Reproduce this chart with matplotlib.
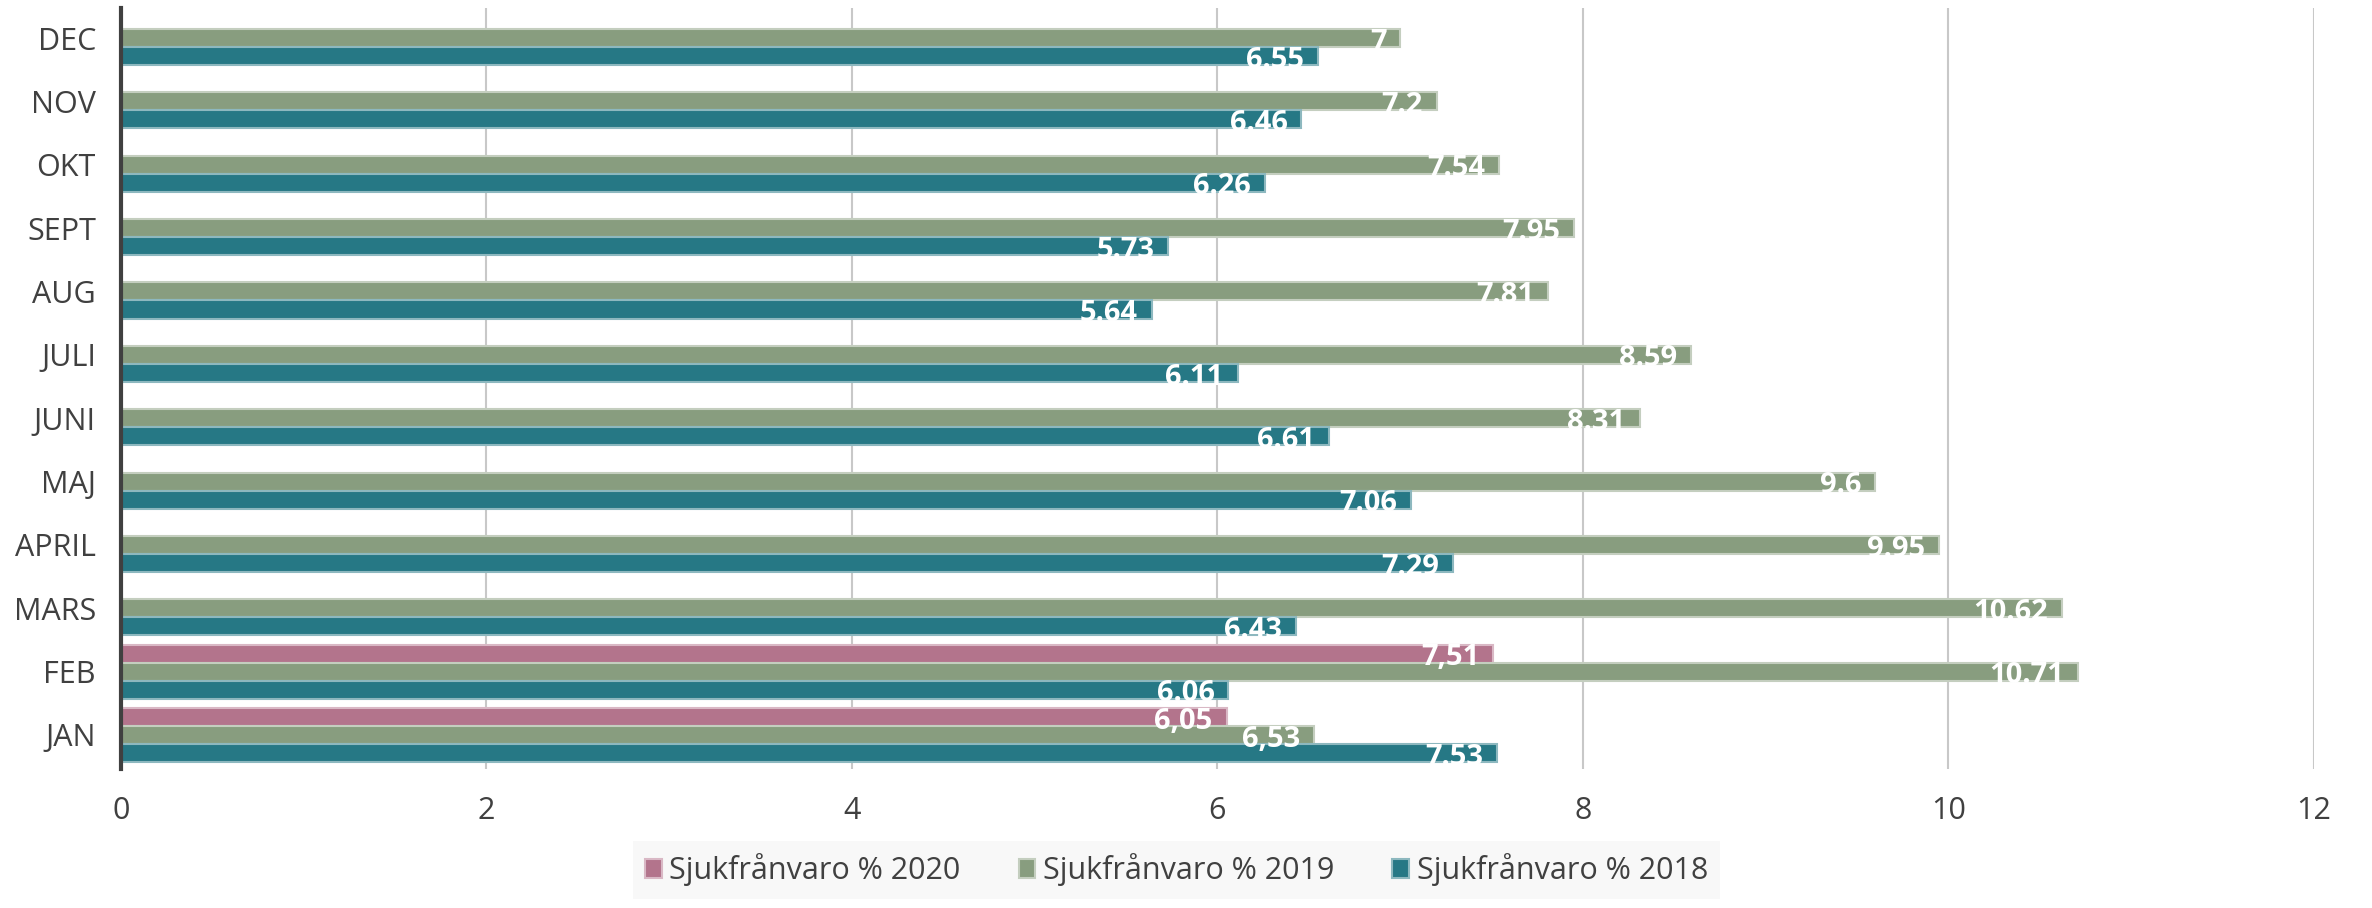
import matplotlib.pyplot as plt
import numpy as np

plt.rcParams['font.family'] = ['Open Sans', 'DejaVu Sans']

months = ['JAN', 'FEB', 'MARS', 'APRIL', 'MAJ', 'JUNI', 'JULI', 'AUG', 'SEPT', 'OKT', 'NOV', 'DEC']

# 2020 only has Jan and Feb so far
val_2020 = [6.05, 7.51]
lab_2020 = ['6,05', '7,51']

val_2019 = [6.53, 10.71, 10.62, 9.95, 9.6, 8.31, 8.59, 7.81, 7.95, 7.54, 7.2, 7]
lab_2019 = ['6,53', '10.71', '10.62', '9.95', '9.6', '8.31', '8.59', '7.81', '7.95', '7.54', '7.2', '7']

val_2018 = [7.53, 6.06, 6.43, 7.29, 7.06, 6.61, 6.11, 5.64, 5.73, 6.26, 6.46, 6.55]
lab_2018 = ['7.53', '6.06', '6.43', '7.29', '7.06', '6.61', '6.11', '5.64', '5.73', '6.26', '6.46', '6.55']

series_names = ['Sjukfrånvaro % 2020', 'Sjukfrånvaro % 2019', 'Sjukfrånvaro % 2018']
colors = ['#B3748C', '#889D7F', '#267885']
edges = ['#D9B8C5', '#C4CEBF', '#8DB8BF']

fig = plt.figure(figsize=(23.72, 9.08), dpi=100)
ax = fig.add_axes([0.051, 0.1536, 0.9245, 0.838])

y = np.arange(len(months))
h = 0.285

series = [
    (val_2020, lab_2020, h),
    (val_2019, lab_2019, 0),
    (val_2018, lab_2018, -h),
]

bars_all = []
for i, (vals, labs, off) in enumerate(series):
    pos = y[:len(vals)] + off
    bars = ax.barh(pos, vals, height=h, color=colors[i], edgecolor=edges[i],
                   linewidth=1.5, label=series_names[i], zorder=3)
    bars_all.append(bars)
    for yy, v, t in zip(pos, vals, labs):
        ax.annotate(t, (v, yy), xytext=(-10, -3), textcoords='offset points',
                    ha='right', va='center', color='white', fontsize=21,
                    fontweight='bold', zorder=4)

ax.set_xlim(0, 12)
ax.set_ylim(-0.53, 11.48)
ax.set_xticks(np.arange(0, 13, 2))
ax.set_yticks(y)
ax.set_yticklabels(months)
ax.tick_params(axis='both', length=0, labelsize=22, colors='#404040')
ax.tick_params(axis='x', pad=20)
ax.tick_params(axis='y', pad=18)

ax.grid(axis='x', color='#C8C8C8', linewidth=1.5, zorder=0)
ax.set_axisbelow(True)
for s in ['top', 'right', 'bottom']:
    ax.spines[s].set_visible(False)
ax.spines['left'].set_color('#404040')
ax.spines['left'].set_linewidth(3)
ax.spines['left'].set_zorder(5)

leg = fig.legend(handles=bars_all, labels=series_names, loc='center',
                 bbox_to_anchor=(0.496, 0.042), ncol=3, frameon=True,
                 fontsize=22, handlelength=0.55, handleheight=0.55,
                 handletextpad=0.25, columnspacing=1.9, borderpad=0.0,
                 borderaxespad=0, labelcolor='#404040')
leg.get_frame().set_facecolor('#F7F7F7')
leg.get_frame().set_edgecolor('none')
leg.get_frame().set_boxstyle('square', pad=0.4)

fig.savefig('out.png', dpi=100)
